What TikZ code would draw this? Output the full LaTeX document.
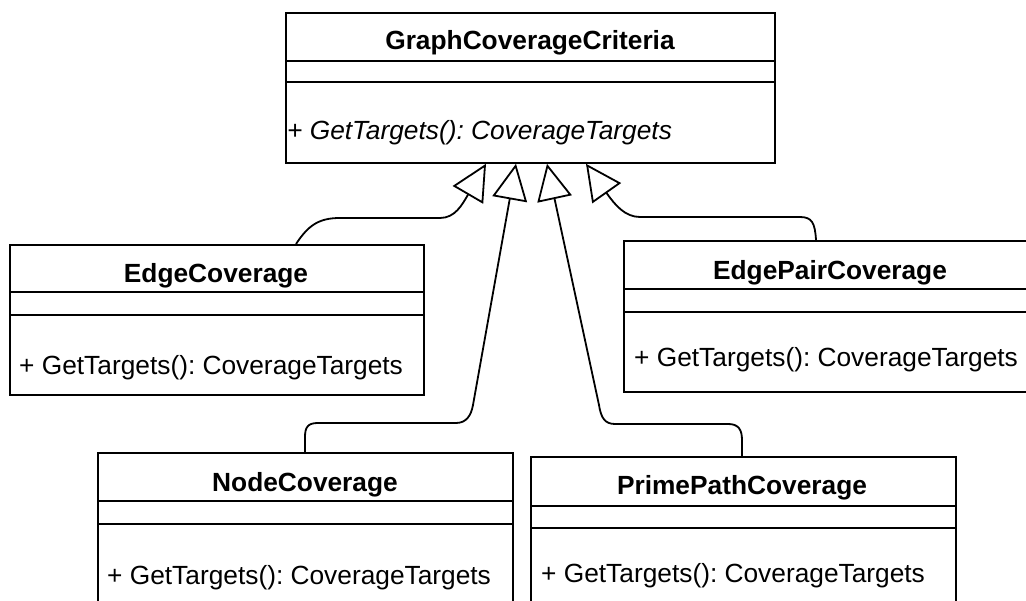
\documentclass[tikz,border=0pt]{standalone}
\usepackage{fontspec}
\setmainfont{Liberation Sans}
\usetikzlibrary{arrows.meta,calc}
\frenchspacing

\tikzset{
  classbox/.style={draw=black, line width=1.8pt, rectangle, inner sep=0pt,
                   anchor=north west, fill=none},
  divider/.style={draw=black, line width=1.8pt},
  classname/.style={anchor=base, inner sep=0pt,
                    font=\fontsize{26.3}{31}\selectfont\bfseries},
  member/.style={anchor=base west, inner sep=0pt,
                 font=\fontsize{26.3}{31}\selectfont},
  inherits/.style={draw=black, line width=1.8pt,
                   -{Triangle[open, length=36pt, width=35pt]}},
}

\begin{document}
\begin{tikzpicture}[x=1pt, y=-1pt]
\useasboundingbox (0,0) rectangle (1026,601);

% abstract base class
\node[classbox, minimum width=489pt, minimum height=150pt] (gcc) at (285,12) {};
\draw[divider] ($(gcc.north west)+(0,49)$) -- ($(gcc.north east)+(0,49)$);
\draw[divider] ($(gcc.north west)+(0,70)$) -- ($(gcc.north east)+(0,70)$);
\node[classname] (gccname) at (530,50) {GraphCoverageCriteria};
\node[member] (gccop) at (287,140) {\itshape + GetTargets(): CoverageTargets};

% EdgeCoverage
\node[classbox, minimum width=414pt, minimum height=150pt] (ec) at (9,244) {};
\draw[divider] ($(ec.north west)+(0,48)$) -- ($(ec.north east)+(0,48)$);
\draw[divider] ($(ec.north west)+(0,71)$) -- ($(ec.north east)+(0,71)$);
\node[classname] (ecname) at (216,283) {EdgeCoverage};
\node[member] (ecop) at (19,375) {+ GetTargets(): CoverageTargets};

% EdgePairCoverage
\node[classbox, minimum width=414pt, minimum height=151pt] (epc) at (623,240) {};
\draw[divider] ($(epc.north west)+(0,49)$) -- ($(epc.north east)+(0,49)$);
\draw[divider] ($(epc.north west)+(0,72)$) -- ($(epc.north east)+(0,72)$);
\node[classname] (epcname) at (830,280) {EdgePairCoverage};
\node[member] (epcop) at (634,367) {+ GetTargets(): CoverageTargets};

% NodeCoverage
\node[classbox, minimum width=415pt, minimum height=156pt] (nc) at (97,452) {};
\draw[divider] ($(nc.north west)+(0,49)$) -- ($(nc.north east)+(0,49)$);
\draw[divider] ($(nc.north west)+(0,72)$) -- ($(nc.north east)+(0,72)$);
\node[classname] (ncname) at (305,492) {NodeCoverage};
\node[member] (ncop) at (107,584) {+ GetTargets(): CoverageTargets};

% PrimePathCoverage
\node[classbox, minimum width=425pt, minimum height=156pt] (ppc) at (530,456) {};
\draw[divider] ($(ppc.north west)+(0,50)$) -- ($(ppc.north east)+(0,50)$);
\draw[divider] ($(ppc.north west)+(0,72)$) -- ($(ppc.north east)+(0,72)$);
\node[classname] (ppcname) at (742,495) {PrimePathCoverage};
\node[member] (ppcop) at (541,582) {+ GetTargets(): CoverageTargets};

% arrow tips on the base class
\coordinate (t1) at ($(gcc.south west)+(201,0)$);
\coordinate (t2) at ($(gcc.south west)+(231,0)$);
\coordinate (t3) at ($(gcc.south west)+(262,0)$);
\coordinate (t4) at ($(gcc.south west)+(301,0)$);

% generalisations
\draw[inherits] ($(ec.north west)+(287,0)$)
  .. controls (308,226) and (318,218) .. (340,218)
  -- (440,218)
  .. controls (455,218) and (462,205) .. (t1);
\draw[inherits] ($(nc.north west)+(208,0)$)
  -- (305,437) .. controls (305,427) and (308,423) .. (318,423)
  -- (456,423) .. controls (466,423) and (471,416) .. (473,405)
  -- (t2);
\draw[inherits] ($(ppc.north west)+(212,0)$)
  -- (742,440) .. controls (742,429) and (738,424) .. (728,424)
  -- (615,424) .. controls (605,424) and (601,418) .. (599,405)
  -- (t3);
\draw[inherits] ($(epc.north west)+(193,0)$)
  .. controls (815,223) and (812,217) .. (800,217)
  -- (640,217)
  .. controls (625,217) and (615,205) .. (t4);
\end{tikzpicture}
\end{document}
